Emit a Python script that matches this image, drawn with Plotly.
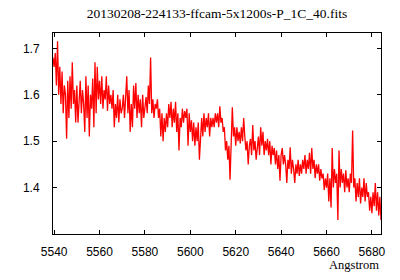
import plotly.graph_objects as go

title_text = "20130208-224133-ffcam-5x1200s-P_1C_40.fits"
x_label = "Angstrom"
x_start = 5539.5
x_step = 0.5

flux = [
    # 5539.5 - 5549.5
    1.68, 1.66, 1.69, 1.62, 1.715, 1.60, 1.66, 1.58, 1.65, 1.56, 1.62, 1.60, 1.505, 1.63, 1.55, 1.64, 1.57, 1.67, 1.58, 1.61, 1.54,
    # 5550 - 5559.5
    1.62, 1.54, 1.60, 1.63, 1.56, 1.61, 1.58, 1.52, 1.64, 1.55, 1.62, 1.51, 1.60, 1.57, 1.635, 1.53, 1.67, 1.56, 1.66, 1.59,
    # 5560 - 5569.5
    1.63, 1.58, 1.64, 1.57, 1.61, 1.59, 1.64, 1.565, 1.62, 1.58, 1.60, 1.57, 1.61, 1.53, 1.58, 1.55, 1.60, 1.54, 1.59, 1.56,
    # 5570 - 5579.5
    1.57, 1.60, 1.55, 1.59, 1.64, 1.56, 1.61, 1.52, 1.58, 1.53, 1.62, 1.57, 1.625, 1.55, 1.60, 1.56, 1.59, 1.53, 1.60, 1.55,
    # 5580 - 5589.5
    1.58, 1.595, 1.56, 1.62, 1.58, 1.68, 1.56, 1.59, 1.55, 1.58, 1.57, 1.59, 1.55, 1.57, 1.51, 1.56, 1.50, 1.55, 1.52, 1.56,
    # 5590 - 5599.5
    1.53, 1.58, 1.55, 1.585, 1.53, 1.57, 1.54, 1.585, 1.52, 1.56, 1.48, 1.55, 1.53, 1.57, 1.54, 1.565, 1.55, 1.57, 1.49, 1.56,
    # 5600 - 5609.5
    1.52, 1.545, 1.50, 1.54, 1.49, 1.53, 1.50, 1.54, 1.46, 1.52, 1.55, 1.51, 1.56, 1.52, 1.55, 1.53, 1.56, 1.51, 1.55, 1.53,
    # 5610 - 5619.5
    1.55, 1.53, 1.56, 1.54, 1.56, 1.53, 1.575, 1.54, 1.55, 1.52, 1.53, 1.48, 1.50, 1.46, 1.49, 1.417, 1.50, 1.573, 1.51, 1.53,
    # 5620 - 5629.5
    1.49, 1.53, 1.50, 1.52, 1.495, 1.53, 1.50, 1.55, 1.51, 1.48, 1.50, 1.45, 1.49, 1.505, 1.47, 1.535, 1.48, 1.50, 1.46, 1.49,
    # 5630 - 5639.5
    1.51, 1.47, 1.53, 1.49, 1.52, 1.47, 1.50, 1.48, 1.505, 1.47, 1.50, 1.45, 1.49, 1.47, 1.485, 1.45, 1.48, 1.44, 1.47, 1.415,
    # 5640 - 5649.5
    1.47, 1.485, 1.45, 1.47, 1.45, 1.41, 1.46, 1.44, 1.487, 1.43, 1.46, 1.44, 1.41, 1.45, 1.43, 1.46, 1.425, 1.45, 1.43, 1.46,
    # 5650 - 5659.5
    1.44, 1.47, 1.43, 1.46, 1.44, 1.475, 1.43, 1.485, 1.44, 1.46, 1.42, 1.45, 1.43, 1.45, 1.415, 1.44, 1.42, 1.43, 1.395, 1.42,
    # 5660 - 5669.5
    1.40, 1.43, 1.37, 1.42, 1.357, 1.485, 1.40, 1.44, 1.41, 1.43, 1.33, 1.48, 1.40, 1.44, 1.41, 1.43, 1.39, 1.437, 1.40, 1.42,
    # 5670 - 5679.5
    1.39, 1.43, 1.41, 1.523, 1.40, 1.42, 1.37, 1.41, 1.38, 1.42, 1.366, 1.40, 1.38, 1.42, 1.37, 1.41, 1.38, 1.39, 1.35, 1.38,
    # 5680 - 5684
    1.345, 1.39, 1.36, 1.41, 1.35, 1.39, 1.34, 1.38, 1.33,
]
wavelength = [x_start + x_step * i for i in range(len(flux))]

x_ticks = [5540, 5560, 5580, 5600, 5620, 5640, 5660, 5680]
y_ticks = [1.4, 1.5, 1.6, 1.7]

fig = go.Figure()
fig.add_trace(go.Scatter(
    x=wavelength, y=flux, mode="lines",
    line=dict(color="#ff0000", width=1.3),
    showlegend=False,
))

axis_common = dict(
    showgrid=False, zeroline=False, showline=True, linecolor="black", linewidth=1,
    mirror="ticks", ticks="inside", ticklen=4, tickcolor="black", tickwidth=1,
    tickfont=dict(family="Liberation Sans", size=12, color="black"),
)

fig.update_layout(
    width=400, height=280,
    margin=dict(l=53, r=19, t=33, b=46),
    paper_bgcolor="white", plot_bgcolor="white",
    title=dict(text=title_text, x=0.5, xanchor="center", y=0.952, yanchor="middle",
               xref="paper",
               font=dict(family="Liberation Serif", size=13.5, color="black")),
    xaxis=dict(range=[5539.5, 5684], tickvals=x_ticks, ticklabelstandoff=7, **axis_common),
    yaxis=dict(range=[1.30, 1.733], tickvals=y_ticks, ticklabelstandoff=10, **axis_common),
    annotations=[dict(
        text=x_label, xref="paper", yref="paper", x=1.0, y=0, yshift=-31,
        xanchor="right", yanchor="middle", showarrow=False,
        font=dict(family="Liberation Serif", size=12.5, color="black"),
    )],
)

fig.write_html("out.html")
